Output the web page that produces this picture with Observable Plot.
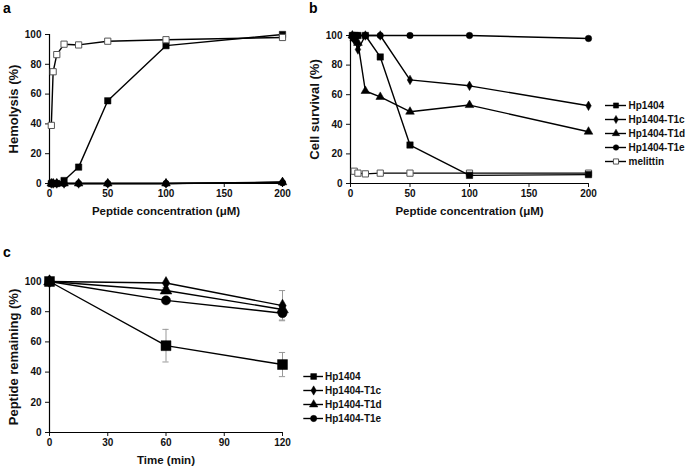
<!DOCTYPE html>
<html><head><meta charset="utf-8">
<script src="https://cdn.jsdelivr.net/npm/d3@7"></script>
<script src="https://cdn.jsdelivr.net/npm/@observablehq/plot@0.6"></script>
<style>
body{margin:0;background:#fff;}
#root{position:relative;width:685px;height:474px;background:#fff;font-family:"Liberation Sans",Arial,sans-serif;font-weight:bold;color:#000;}
.pl{position:absolute;}
.lt{position:absolute;font-size:14px;font-weight:bold;}
</style></head>
<body><div id="root">
<div class="lt" style="left:3px;top:0px">a</div>
<div class="lt" style="left:309px;top:0px">b</div>
<div class="lt" style="left:3px;top:244px">c</div>
</div>
<script>
// ---- data ----
const conc = [1.5625, 3.125, 6.25, 12.5, 25, 50, 100, 200];
const seriesNames = ["Hp1404", "Hp1404-T1c", "Hp1404-T1d", "Hp1404-T1e", "melittin"];
// panel a: hemolysis (%)
const hemoHp1404   = [0, 0, 0, 2, 11, 55.5, 92.5, 100];
const hemoT1c      = [0, 0, 0, 0, 0, 0, 0, 1];
const hemoT1d      = [0, 0, 0, 0, 0, 0, 0, 0.8];
const hemoT1e      = [0, 0, 0, 0, 0, 0, 0, 0.5];
const hemoMelittin = [39, 75, 86.5, 93.5, 93, 95.5, 96.5, 98];
// panel b: cell survival (%)
const survHp1404   = [100, 100, 100, 100, 85.5, 26, 5.5, 6];
const survT1c      = [99, 97, 90.5, 100, 100, 70, 66, 52.5];
const survT1d      = [100, 98, 95, 62.5, 58.5, 48.5, 53, 35];
const survT1e      = [100, 100, 100, 100, 100, 100, 100, 98];
const survMelittin = [null, 8.3, 7, 6.5, 7, 7, 7, 7];
// panel c: peptide remaining (%)
const timeMin = [0, 60, 120];
const cNames = ["Hp1404", "Hp1404-T1c", "Hp1404-T1d", "Hp1404-T1e"];
const remHp1404 = [100, 57.5, 45],  errHp1404 = [1.5, 10.8, 8];
const remT1c    = [100, 99, 84],    errT1c    = [0, 0.5, 10];
const remT1d    = [100, 94, 81.5],  errT1d    = [0, 2, 1.5];
const remT1e    = [100, 87.5, 79],  errT1e    = [0, 1.5, 4.5];
const yTicks = [0, 20, 40, 60, 80, 100];
const concTicks = [0, 50, 100, 150, 200];
const timeTicks = [0, 30, 60, 90, 120];

// ---- styles ----
const sym = {
  "Hp1404": {symbol: "square", fill: "black", stroke: "black", k: 1},
  "Hp1404-T1c": {symbol: "diamond", fill: "black", stroke: "black", k: 0.85},
  "Hp1404-T1d": {symbol: "triangle", fill: "black", stroke: "black", k: 0.95},
  "Hp1404-T1e": {symbol: "circle", fill: "black", stroke: "black", k: 0.95},
  "melittin": {symbol: "square", fill: "white", stroke: "#555", k: 1}
};
const FONT = "'Liberation Sans', Arial, sans-serif";

function rows(xs, ys, errs) {
  return xs.map((x, i) => ({x, y: ys[i], e: errs ? errs[i] : 0})).filter(d => d.y != null);
}
function seriesMarks(data, name, r) {
  const s = sym[name];
  return [
    Plot.line(data, {x: "x", y: "y", stroke: "black", strokeWidth: 1.4}),
    Plot.dot(data, {x: "x", y: "y", symbol: s.symbol, fill: s.fill, stroke: s.stroke, strokeWidth: s.fill === "white" ? 1 : 0.5, r: r * s.k})
  ];
}
function panel(o) {
  const p = Plot.plot({
    width: o.width, height: o.height,
    marginLeft: o.ml, marginRight: o.mr, marginTop: o.mt, marginBottom: o.mb,
    style: {fontFamily: FONT, fontSize: "10px", fontWeight: "bold", color: "#111", background: "transparent", overflow: "visible"},
    x: {domain: o.xDomain, ticks: o.xTicks, tickSize: 4, tickPadding: 2, label: null},
    y: {domain: [0, 100], ticks: yTicks, tickSize: 4, tickPadding: 4, label: null},
    marks: [
      Plot.ruleY([0], {stroke: "black", strokeWidth: 1.2}),
      Plot.ruleX([0], {stroke: "black", strokeWidth: 1.2}),
      ...o.marks,
      Plot.text([o.xLabel], {text: d => d, frameAnchor: "bottom", textAnchor: "middle", lineAnchor: "middle", dy: 28, fontSize: 11.5, fontWeight: "bold", fill: "#111"}),
      Plot.text([o.yLabel], {text: d => d, frameAnchor: "left", textAnchor: "middle", lineAnchor: "middle", dx: -36, rotate: -90, fontSize: 13, fontWeight: "bold", fill: "#111"})
    ]
  });
  p.classList.add("pl");
  p.style.left = o.left + "px"; p.style.top = o.top + "px";
  document.getElementById("root").appendChild(p);
}
function legend(o) {
  const marks = [];
  o.names.forEach(n => {
    const s = sym[n];
    marks.push(Plot.ruleY([n], {y: d => d, x1: o.x1, x2: o.x2, stroke: "black", strokeWidth: 1.4}));
    marks.push(Plot.dot([n], {x: (o.x1 + o.x2) / 2, y: d => d, symbol: s.symbol, fill: s.fill, stroke: s.stroke, strokeWidth: s.fill === "white" ? 1 : 0.5, r: o.r * s.k}));
  });
  marks.push(Plot.text(o.names, {x: o.tx, y: d => d, text: d => d, textAnchor: "start", fontSize: 10, fontWeight: "bold", fill: "#111"}));
  const p = Plot.plot({
    width: o.width, height: o.height, margin: 0,
    style: {fontFamily: FONT, fontWeight: "bold", background: "transparent", overflow: "visible"},
    x: {type: "identity", axis: null},
    y: {type: "point", domain: o.names, range: o.yRange, padding: 0, axis: null},
    marks
  });
  p.classList.add("pl");
  p.style.left = o.left + "px"; p.style.top = o.top + "px";
  document.getElementById("root").appendChild(p);
}

// panel a
panel({
  left: 0, top: 0, width: 300, height: 230, ml: 49, mr: 18, mt: 34, mb: 47,
  xDomain: [0, 200], xTicks: concTicks,
  xLabel: "Peptide concentration (μM)", yLabel: "Hemolysis (%)",
  marks: [
    ...seriesMarks(rows(conc, hemoT1e), "Hp1404-T1e", 3.4),
    ...seriesMarks(rows(conc, hemoT1d), "Hp1404-T1d", 3.4),
    ...seriesMarks(rows(conc, hemoT1c), "Hp1404-T1c", 3.4),
    ...seriesMarks(rows(conc, hemoHp1404), "Hp1404", 3.6),
    ...seriesMarks(rows(conc, hemoMelittin), "melittin", 3.5)
  ]
});
// panel b
panel({
  left: 300, top: 0, width: 300, height: 230, ml: 50, mr: 12, mt: 35, mb: 47,
  xDomain: [0, 200], xTicks: concTicks,
  xLabel: "Peptide concentration (μM)", yLabel: "Cell survival (%)",
  marks: [
    ...seriesMarks(rows(conc, survMelittin), "melittin", 3.5),
    ...seriesMarks(rows(conc, survT1e), "Hp1404-T1e", 3.4),
    ...seriesMarks(rows(conc, survT1d), "Hp1404-T1d", 3.4),
    ...seriesMarks(rows(conc, survT1c), "Hp1404-T1c", 3.4),
    ...seriesMarks(rows(conc, survHp1404), "Hp1404", 3.6)
  ]
});
legend({left: 600, top: 90, width: 85, height: 80, names: seriesNames, x1: 5, x2: 26, tx: 28, r: 2.9, yRange: [14, 71]});

// panel c
const cData = [
  ["Hp1404", rows(timeMin, remHp1404, errHp1404)],
  ["Hp1404-T1c", rows(timeMin, remT1c, errT1c)],
  ["Hp1404-T1d", rows(timeMin, remT1d, errT1d)],
  ["Hp1404-T1e", rows(timeMin, remT1e, errT1e)]
];
const errMarks = [];
cData.forEach(([n, d]) => {
  const dd = d.filter(r => r.e > 0);
  errMarks.push(Plot.ruleX(dd, {x: "x", y1: r => r.y - r.e, y2: r => r.y + r.e, stroke: "#999", strokeWidth: 1}));
  errMarks.push(Plot.ruleY(dd, {y: r => r.y + r.e, x1: r => r.x - 1.6, x2: r => r.x + 1.6, stroke: "#999", strokeWidth: 1}));
  errMarks.push(Plot.ruleY(dd, {y: r => r.y - r.e, x1: r => r.x - 1.6, x2: r => r.x + 1.6, stroke: "#999", strokeWidth: 1}));
});
panel({
  left: 0, top: 230, width: 300, height: 244, ml: 49, mr: 18, mt: 51, mb: 42,
  xDomain: [0, 120], xTicks: timeTicks,
  xLabel: "Time (min)", yLabel: "Peptide remaining (%)",
  marks: [
    ...errMarks,
    ...seriesMarks(cData[3][1], "Hp1404-T1e", 4.8),
    ...seriesMarks(cData[2][1], "Hp1404-T1d", 4.6),
    ...seriesMarks(cData[1][1], "Hp1404-T1c", 4.6),
    ...seriesMarks(cData[0][1], "Hp1404", 5.6)
  ]
});
legend({left: 300, top: 360, width: 100, height: 70, names: cNames, x1: 3.3, x2: 23, tx: 24.5, r: 3.3, yRange: [15, 58.3]});
</script>
</body></html>
